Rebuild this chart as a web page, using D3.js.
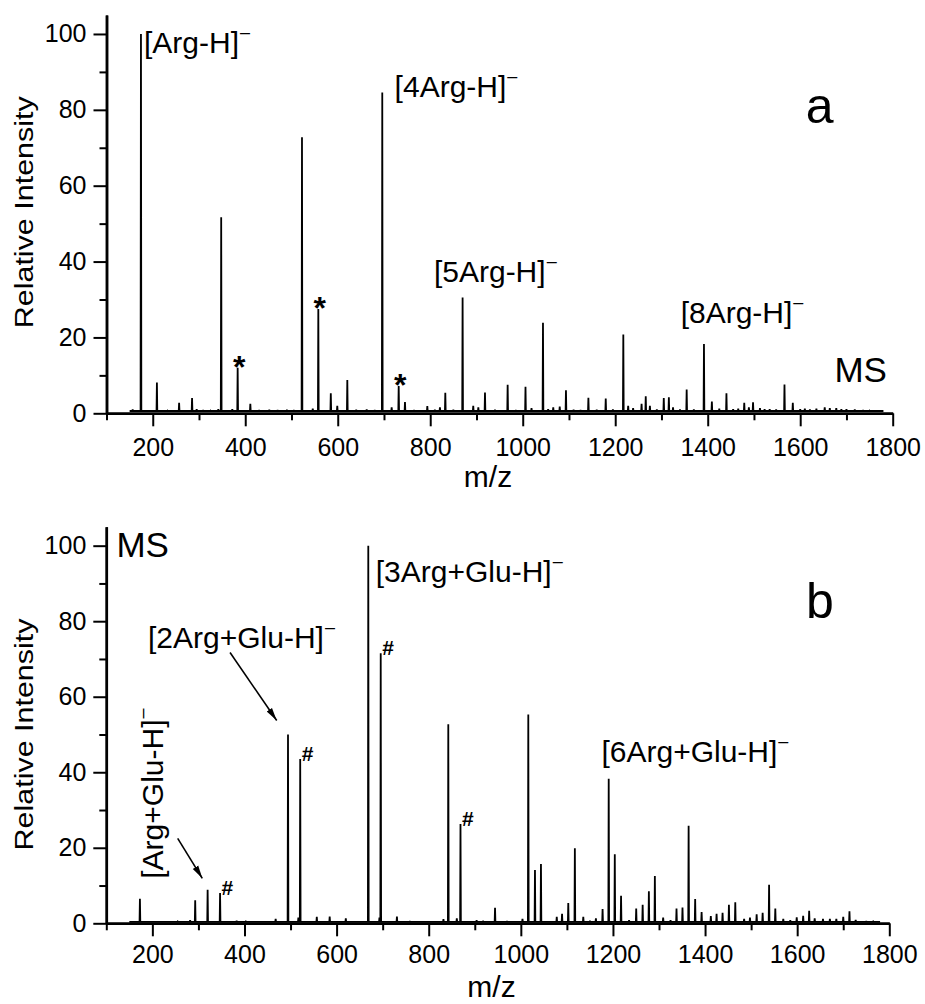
<!DOCTYPE html>
<meta charset="utf-8">
<style>
  body { margin: 0; background: #fff; }
  text { font-family: "Liberation Sans", Arial, sans-serif; fill: #000; }
</style>
<div id="chart"></div>
<script src="https://d3js.org/d3.v7.min.js"></script>
<script>

// ---- data (m/z, relative intensity) ----
var peaksA = [[156.6,1.0],[174.5,100],[187,0.6],[209,8.1],[232,0.7],[257,2.8],[285,4.0],[295,1.1],[309,0.8],[325,0.7],
  [341.8,1.1],[348,51.7],[372,1.1],[383.6,12],[411,2.5],[430,0.8],[452,0.9],[470,0.8],[490,0.9],[505,0.8],
  [522.7,72.8],[546,1.2],[558,27.5],[585,5.3],[599,2.0],[620.7,8.8],[640,0.9],[662.6,1.0],[680,0.8],[696.3,84.6],
  [716.6,1.6],[731.8,7.2],[745.4,3.0],[765,0.8],[793.7,1.9],[810,0.9],[821,1.6],[832.6,5.4],[850,0.9],[870,30.5],
  [893,2.0],[904,1.6],[918.4,5.5],[940,0.9],[967.4,7.5],[985,0.8],[1006,7.0],[1019,1.4],[1043.8,23.9],[1055,1.1],
  [1066,1.6],[1080,1.8],[1093.5,6.1],[1110,0.9],[1125,0.8],[1142,4.1],[1160,0.9],[1179.5,3.9],[1195,1.0],[1217.5,20.8],
  [1228,2.0],[1238.7,1.4],[1257,2.5],[1266,4.5],[1275,2.0],[1290,1.0],[1305,4.0],[1316,4.2],[1325,1.6],[1340,1.0],
  [1354.5,6.3],[1370,1.0],[1391.9,18.3],[1409,3.1],[1425,1.2],[1440.5,5.3],[1455,1.1],[1466,1.2],[1479,2.8],[1489,1.6],
  [1498,2.9],[1513,1.4],[1523,1.1],[1534,1.1],[1548,1.0],[1566,7.6],[1584,2.8],[1600,1.1],[1610,1.2],[1621,1.0],
  [1635,1.2],[1653,1.6],[1664,1.4],[1678,1.4],[1689,1.1],[1700,1.1],[1718,1.0],[1736,0.8],[1750,0.7],[1765,0.6]];

var peaksB = [[173,6.5],[255,0.5],[282,0.8],[293,6.1],[320,8.9],[347,8.0],[383,0.7],[403,0.5],[467.7,1.2],[494.5,50.0],
  [517,1.5],[521,43.5],[557,1.7],[585,1.8],[620,1.3],[668.8,100],[693,1.5],[695.8,71.5],[731,1.8],[759,0.6],
  [832,1.1],[842.5,52.7],[861,1.3],[869,26.3],[904,0.8],[918,0.5],[944,4.1],[970,0.6],[1003.6,1.2],[1016.2,55.3],
  [1030.7,14.1],[1043.7,15.7],[1078,1.7],[1089.5,2.5],[1103,5.4],[1117.3,19.9],[1135.6,1.7],[1150,0.7],[1163,1.3],[1177.5,3.8],
  [1190.8,38.3],[1204,18.3],[1217.6,7.3],[1235,0.8],[1250.5,3.9],[1264.5,4.9],[1278,8.5],[1291,12.5],[1309,1.5],[1325,0.8],
  [1338,3.9],[1351,4.2],[1364.3,25.8],[1378.5,6.4],[1392.5,3.0],[1412.5,1.9],[1425,2.5],[1438,2.8],[1451.8,4.9],[1465.6,5.6],
  [1484.8,1.2],[1497.5,1.5],[1512,2.4],[1525,2.8],[1539,10.2],[1552.5,3.9],[1569.8,1.2],[1585,0.8],[1599,1.6],[1613,2.0],
  [1626,3.3],[1638,1.3],[1656,1.2],[1671,1.2],[1685,1.2],[1700,1.7],[1713.5,3.2],[1727,0.9],[1750,0.6],[1765,0.5]];

var traceRange = [150, 1780];      // m/z span of the recorded trace
var floorA = 0.6, floorB = 0.4;    // noise floor level

// marked peaks
var starsA = [383.6, 558, 731.8];          // "*"
var hashB = [347, 521, 695.8, 869];        // "#"

var ionsA = ["[Arg-H]", "[4Arg-H]", "[5Arg-H]", "[8Arg-H]"];
var ionsB = ["[3Arg+Glu-H]", "[2Arg+Glu-H]", "[6Arg+Glu-H]"];
var ionB_rot = "[Arg+Glu-H]";

// axes
var xDomain = [100, 1800];
var yDomain = [0, 105];
var xMajor = d3.range(200, 1801, 200);
var xMinor = d3.range(100, 1800, 200);
var yMajor = d3.range(0, 101, 20);
var yMinor = d3.range(10, 100, 20);

// ---- layout ----
var W = 925, H = 1004;
var svg = d3.select("#chart").append("svg").attr("width", W).attr("height", H);

var defs = svg.append("defs");
defs.append("marker").attr("id", "arrow")
  .attr("markerUnits", "userSpaceOnUse")
  .attr("markerWidth", 14).attr("markerHeight", 8)
  .attr("refX", 13).attr("refY", 4).attr("orient", "auto")
  .append("path").attr("d", "M0,0.8 L13,4 L0,7.2 Z").attr("fill", "#000");

function ion(g, txt, px, py, rot) {
  var t = g.append("text").style("font-size", "30px")
    .attr("transform", "translate(" + px + "," + py + ")" + (rot ? " rotate(-90)" : ""));
  t.append("tspan").text(txt);
  t.append("tspan").attr("dx", 1).attr("dy", -15).style("font-size", "18px").text("\u2013");
  return t;
}

function panel(cfg) {
  var g = svg.append("g");
  var x = d3.scaleLinear().domain(xDomain).range(cfg.xRange);
  var y = d3.scaleLinear().domain(yDomain).range(cfg.yRange);

  // spectrum trace
  var pts = [[traceRange[0], cfg.floor]];
  cfg.peaks.forEach(function(p) {
    pts.push([p[0] - 0.8, cfg.floor], [p[0], p[1]], [p[0] + 0.8, cfg.floor]);
  });
  pts.push([traceRange[1], cfg.floor]);
  g.append("path")
    .attr("d", d3.line().x(function(d) { return x(d[0]); }).y(function(d) { return y(d[1]); })(pts))
    .attr("fill", "none").attr("stroke", "#000").attr("stroke-width", 1.8)
    .attr("stroke-linejoin", "miter").attr("stroke-miterlimit", 2);

  // axes
  var fmt = d3.format("d");
  var ax = g.append("g").attr("transform", "translate(0," + y(0) + ")");
  ax.call(d3.axisBottom(x).tickValues(xMajor).tickFormat(fmt).tickSize(13).tickSizeOuter(0).tickPadding(cfg.xPad));
  ax.append("g").call(d3.axisBottom(x).tickValues(xMinor).tickSize(7).tickSizeOuter(0).tickFormat(""));
  var ay = g.append("g").attr("transform", "translate(" + x(100) + ",0)");
  ay.call(d3.axisLeft(y).tickValues(yMajor).tickFormat(fmt).tickSize(13).tickSizeOuter(0).tickPadding(7));
  ay.append("g").call(d3.axisLeft(y).tickValues(yMinor).tickSize(7).tickSizeOuter(0).tickFormat(""));
  g.selectAll(".domain").attr("stroke", "#000").attr("stroke-width", 2.5);
  g.selectAll(".tick line").attr("stroke", "#000").attr("stroke-width", 2);
  g.selectAll(".tick text").style("font-size", "25px").style("font-family", "Liberation Sans, Arial, sans-serif").attr("fill", "#000");

  g.append("text").attr("text-anchor", "middle").style("font-size", "26px")
    .attr("textLength", 232).attr("lengthAdjust", "spacingAndGlyphs")
    .attr("transform", "translate(33.4," + y(cfg.yTitleAt) + ") rotate(-90)")
    .text("Relative Intensity");
  g.append("text").attr("text-anchor", "middle").style("font-size", "30px")
    .attr("x", cfg.mzX).attr("y", cfg.mzY).text("m/z");

  return { g: g, x: x, y: y };
}

// panel a
var pa = panel({ peaks: peaksA, floor: floorA, xRange: [106.5, 892.7], yRange: [413.3, 15.0],
  xPad: 12, yTitleAt: 53, mzX: 488, mzY: 487.3 });
var ionPosA = [[181, 95.1], [723, 83.5], [808, 34.7], [1341.5, 23.9]];
ionsA.forEach(function(t, i) { ion(pa.g, t, pa.x(ionPosA[i][0]), pa.y(ionPosA[i][1])); });
pa.g.append("text").style("font-size", "50px").attr("x", pa.x(1612)).attr("y", pa.y(76.6)).text("a");
pa.g.append("text").style("font-size", "35px").attr("x", pa.x(1674)).attr("y", pa.y(8.3)).text("MS");
starsA.forEach(function(m) {
  var h = peaksA.find(function(p) { return p[0] === m; })[1];
  pa.g.append("text").attr("text-anchor", "middle").style("font-size", "32px").style("font-weight", "bold")
    .attr("x", pa.x(m) + 1.5).attr("y", pa.y(h) + 10).text("*");
});

// panel b
var pb = panel({ peaks: peaksB, floor: floorB, xRange: [106.3, 889.3], yRange: [923.3, 526.8],
  xPad: 9, yTitleAt: 50, mzX: 491.5, mzY: 996.7 });
var ionPosB = [[685, 90.5], [190.5, 72.8], [1175, 42.8]];
ionsB.forEach(function(t, i) { ion(pb.g, t, pb.x(ionPosB[i][0]), pb.y(ionPosB[i][1])); });
ion(pb.g, ionB_rot, pb.x(223), pb.y(11.8), true);
pb.g.append("text").style("font-size", "50px").attr("x", pb.x(1619)).attr("y", pb.y(80.9)).text("b");
pb.g.append("text").style("font-size", "35px").attr("x", pb.x(122)).attr("y", pb.y(97)).text("MS");
hashB.forEach(function(m) {
  var h = peaksB.find(function(p) { return p[0] === m; })[1];
  pb.g.append("text").style("font-size", "21px").style("font-weight", "bold")
    .attr("x", pb.x(m) + 1.5).attr("y", pb.y(h) + 2).text("#");
});
var arrowsB = [[[368.6, 71.7], [470, 53.7]], [[255, 22.5], [308.4, 11.9]]];
arrowsB.forEach(function(a) {
  pb.g.append("line")
    .attr("x1", pb.x(a[0][0])).attr("y1", pb.y(a[0][1]))
    .attr("x2", pb.x(a[1][0])).attr("y2", pb.y(a[1][1]))
    .attr("stroke", "#000").attr("stroke-width", 1.6).attr("marker-end", "url(#arrow)");
});

</script>
